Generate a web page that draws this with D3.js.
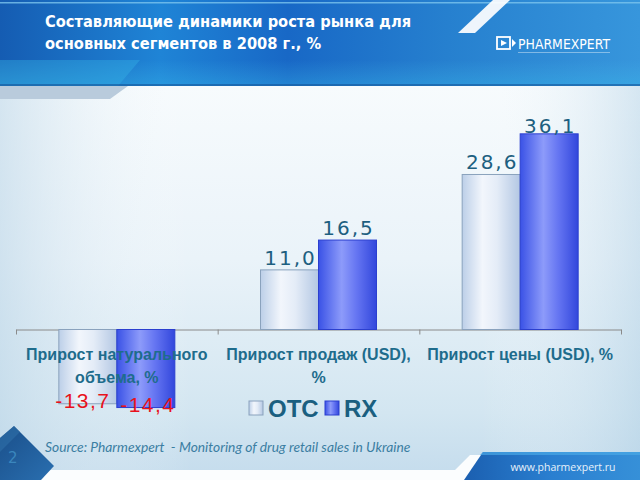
<!DOCTYPE html>
<html><head><meta charset="utf-8">
<script src="https://cdn.jsdelivr.net/npm/d3@7"></script>
<style>html,body{margin:0;padding:0;background:#fff;}svg{display:block;}</style>
</head><body>
<svg id="c" width="640" height="480"></svg>
<script>
const categories = ["Прирост натурального\nобъема, %", "Прирост продаж (USD),\n%", "Прирост цены (USD), %"];
const seriesNames = ["OTC", "RX"];
const otcValues = [-13.7, 11.0, 28.6];
const rxValues = [-14.4, 16.5, 36.1];
const titleLines = ["Составляющие динамики роста рынка для", "основных сегментов в 2008 г., %"];
const sourceText = "Source: Pharmexpert  - Monitoring of drug retail sales in Ukraine";

const svg = d3.select("#c");
const defs = svg.append("defs");

function lin(id, stops, x2, y2) {
  const g = defs.append("linearGradient").attr("id", id)
    .attr("x1", 0).attr("y1", 0).attr("x2", x2).attr("y2", y2);
  stops.forEach(s => g.append("stop").attr("offset", s[0]).attr("stop-color", s[1]));
}
lin("hdr", [[0, "#155cb2"], [0.25, "#1f84d6"], [0.45, "#1868c6"], [0.7, "#2680cf"], [1, "#3796dc"]], 1, 0);
lin("hdrV", [[0, "rgba(255,255,255,0)"], [0.7, "rgba(80,200,240,0.0)"], [1, "rgba(60,200,240,0.3)"]], 0, 1);
lin("body", [[0, "#f7fbfd"], [0.45, "#eaf3f9"], [0.85, "#d3e6f1"], [1, "#c6dded"]], 0, 1);
lin("bodyH", [[0, "rgba(190,215,232,0.6)"], [0.3, "rgba(255,255,255,0)"], [0.75, "rgba(255,255,255,0)"], [1, "rgba(180,210,230,0.5)"]], 1, 0);
lin("otc", [[0, "#bccfe8"], [0.35, "#f2f6fc"], [0.6, "#e4ecf7"], [1, "#b3c7e3"]], 1, 0);
lin("rx", [[0, "#3a52e6"], [0.4, "#8d9bfa"], [0.65, "#6676f2"], [1, "#3247dc"]], 1, 0);
lin("banner", [[0, "#1b5fb0"], [0.5, "#2a7fd0"], [1, "#3690d8"]], 1, 0);
lin("corner", [[0, "#1a4f8a"], [1, "#2a6fb0"]], 1, 1);

// background
svg.append("rect").attr("width", 640).attr("height", 480).attr("fill", "#fbfdfe");
svg.append("path").attr("d", "M0,86 L640,86 L640,455 L470,455 L455,470 L0,470 Z").attr("fill", "url(#body)");
svg.append("path").attr("d", "M0,86 L640,86 L640,455 L470,455 L455,470 L0,470 Z").attr("fill", "url(#bodyH)");
// bottom-left corner shape
svg.append("path").attr("d", "M0,438 L14,426 L54,466 L41,480 L0,480 Z").attr("fill", "url(#corner)");
svg.append("path").attr("d", "M0,438 L14,426 L20,432 L0,452 Z").attr("fill", "#2f6fa8").attr("opacity", 0.6);
svg.append("text").attr("x", 8).attr("y", 463).attr("font-family", "DejaVu Sans").attr("font-size", 15)
  .attr("fill", "#3a86bd").text("2");
// bottom-right banner
svg.append("path").attr("d", "M483,452 L640,452 L640,480 L464,480 Z").attr("fill", "url(#banner)");
svg.append("path").attr("d", "M483,452 L640,452 L640,455 L480,455 Z").attr("fill", "#4aa8e6").attr("opacity", 0.7);
svg.append("text").attr("x", 563).attr("y", 471).attr("text-anchor", "middle")
  .attr("font-family", "Open Sans, DejaVu Sans").attr("font-size", 10.5).attr("fill", "#e8f2fb").text("www.pharmexpert.ru");

// header
svg.append("path").attr("d", "M0,86 L128,86 L110,99 L0,99 Z").attr("fill", "#b9cbdc");
svg.append("rect").attr("width", 640).attr("height", 86).attr("fill", "url(#hdr)");
svg.append("rect").attr("width", 640).attr("height", 86).attr("fill", "url(#hdrV)");
svg.append("path").attr("d", "M0,60 L140,60 L118,86 L0,86 Z").attr("fill", "#35b2e6").attr("opacity", 0.4);
svg.append("rect").attr("y", 2).attr("width", 640).attr("height", 1.5).attr("fill", "#7cc4ee").attr("opacity", 0.8);
svg.append("path").attr("d", "M493,0 L510,0 L475,33 L458,33 Z").attr("fill", "#ffffff").attr("opacity", 0.92);
svg.append("rect").attr("y", 84).attr("width", 640).attr("height", 2).attr("fill", "#15549a").attr("opacity", 0.6);

const title = svg.append("text").attr("font-family", "DejaVu Sans Condensed, DejaVu Sans").attr("font-weight", "bold")
  .attr("font-size", 16.3).attr("fill", "#ffffff");
titleLines.forEach((t, i) => title.append("tspan").attr("x", 45).attr("y", 27 + i * 22).text(t));

// logo
const logo = svg.append("g").attr("transform", "translate(497,37)");
logo.append("rect").attr("x", 0).attr("y", 0).attr("width", 13).attr("height", 12).attr("fill", "none")
  .attr("stroke", "#ffffff").attr("stroke-width", 1.8);
logo.append("path").attr("d", "M4,3 L10,6 L4,9 Z").attr("fill", "#ffffff");
logo.append("path").attr("d", "M15,2 L19,6 L15,10 Z").attr("fill", "#ffffff");
logo.append("text").attr("x", 21).attr("y", 12).attr("font-family", "DejaVu Sans Condensed, DejaVu Sans")
  .attr("font-size", 14).attr("fill", "#ffffff").attr("textLength", 92).attr("lengthAdjust", "spacingAndGlyphs").text("PHARMEXPERT");
logo.append("rect").attr("x", 21).attr("y", 15).attr("width", 92).attr("height", 1).attr("fill", "#ffffff").attr("opacity", 0.4);

// chart
const data = categories.map((c, i) => ({ cat: c, vals: [otcValues[i], rxValues[i]] }));
const x0 = d3.scaleBand().domain(categories).range([16, 621]).paddingInner(0).paddingOuter(0);
const x1 = d3.scaleBand().domain(seriesNames).range([0, 116]);
const groupOffset = (x0.bandwidth() - 116) / 2;
const y = d3.scaleLinear().domain([-20, 40]).range([329.5 + 20 * 5.42, 329.5 - 40 * 5.42]);

const xb = d3.scaleLinear().domain([0, categories.length]).range(x0.range());
const axis = svg.append("g").attr("transform", `translate(0,${y(0)})`)
  .call(d3.axisBottom(xb).tickValues(d3.range(categories.length + 1)).tickSize(5).tickSizeOuter(0).tickFormat(""));
axis.selectAll("path,line").attr("stroke", "#8a8a8a").attr("stroke-width", 1);

const groups = svg.append("g").selectAll("g").data(data).join("g")
  .attr("transform", d => `translate(${x0(d.cat) + groupOffset},0)`);
groups.selectAll("rect").data(d => d.vals.map((v, k) => ({ v, s: seriesNames[k] }))).join("rect")
  .attr("x", d => x1(d.s)).attr("width", x1.bandwidth())
  .attr("y", d => y(Math.max(0, d.v))).attr("height", d => Math.abs(y(d.v) - y(0)))
  .attr("fill", d => d.s === "OTC" ? "url(#otc)" : "url(#rx)")
  .attr("stroke", d => d.s === "OTC" ? "#8aa2bd" : "#2b3fcf").attr("stroke-width", 1);

// category labels (drawn over bars)
const catG = svg.append("g");
categories.forEach((c, i) => {
  const t = catG.append("text").attr("text-anchor", "middle").attr("font-family", "Liberation Sans, Arial")
    .attr("font-weight", "bold").attr("font-size", 16).attr("fill", "#1e6c8c");
  c.split("\n").forEach((ln, j) => t.append("tspan").attr("x", x0(c) + x0.bandwidth() / 2).attr("y", 360 + j * 23).text(ln));
});

// value labels
groups.append("g").selectAll("text").data(d => d.vals.map((v, k) => ({ v, s: seriesNames[k] }))).join("text")
  .attr("x", d => x1(d.s) + x1.bandwidth() / 2 + (d.v >= 0 ? 1 : (d.s === "OTC" ? -5 : 2)))
  .attr("y", d => d.v >= 0 ? Math.max(y(d.v) - 5, 133) : y(d.v) + 4)
  .attr("text-anchor", "middle")
  .attr("font-family", d => d.v >= 0 ? "DejaVu Sans" : "Liberation Sans, Arial")
  .attr("font-size", d => d.v >= 0 ? 20 : 21)
  .attr("letter-spacing", d => d.v >= 0 ? 2 : 1.5)
  .attr("fill", d => d.v >= 0 ? "#1d5f80" : "#e8121c")
  .text(d => d3.format(".1f")(d.v).replace(".", ",").replace("−", "-"));

// legend
const leg = svg.append("g");
const legX = [249, 325];
seriesNames.forEach((s, i) => {
  leg.append("rect").attr("x", legX[i]).attr("y", 401).attr("width", 14).attr("height", 14)
    .attr("fill", s === "OTC" ? "url(#otc)" : "url(#rx)").attr("stroke", s === "OTC" ? "#8aa2bd" : "#2b3fcf");
  leg.append("text").attr("x", legX[i] + 19).attr("y", 417).attr("font-family", "Liberation Sans, Arial")
    .attr("font-weight", "bold").attr("font-size", 24).attr("fill", "#1a5f80").text(s);
});

// source
svg.append("text").attr("x", 45).attr("y", 452).attr("font-family", "Lato, DejaVu Sans").attr("font-style", "italic")
  .attr("font-size", 13.8).attr("fill", "#3b7ea2").attr("xml:space", "preserve").text(sourceText);
</script>
</body></html>
